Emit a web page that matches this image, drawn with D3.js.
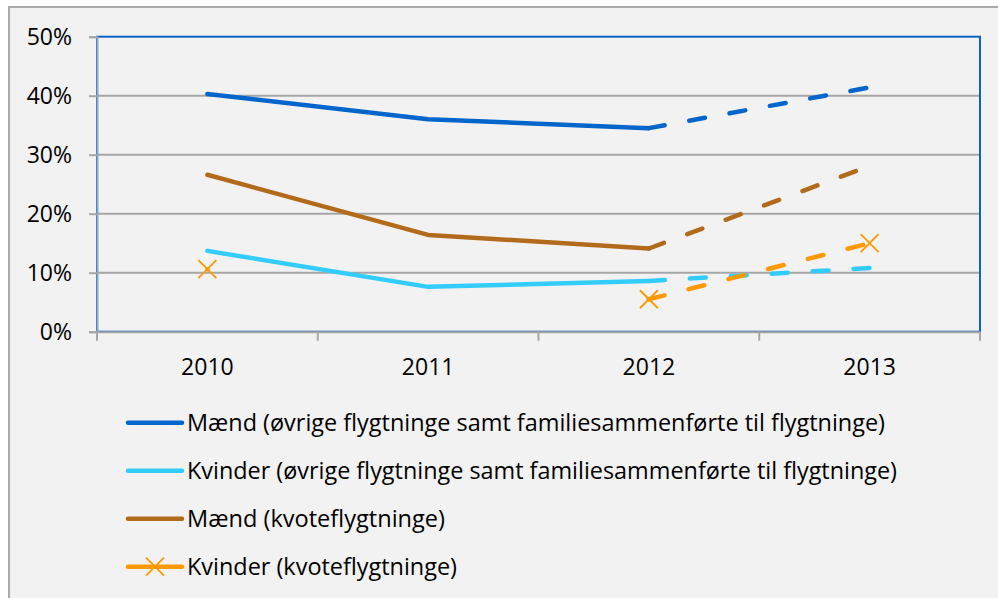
<!DOCTYPE html>
<html>
<head>
<meta charset="utf-8">
<script src="https://cdn.jsdelivr.net/npm/d3@7"></script>
<style>
  html, body { margin: 0; padding: 0; background: #ffffff; }
  svg { display: block; }
  text { font-family: "Open Sans", "Noto Sans", sans-serif; fill: #000; }
</style>
</head>
<body>
<svg id="chart" width="998" height="598"></svg>
<script>
// ---- data ----
const years = ["2010", "2011", "2012", "2013"];
const projectionFrom = "2012"; // segments after this year are drawn dashed
const seriesNames = [
  "Mænd (øvrige flygtninge samt familiesammenførte til flygtninge)",
  "Kvinder (øvrige flygtninge samt familiesammenførte til flygtninge)",
  "Mænd (kvoteflygtninge)",
  "Kvinder (kvoteflygtninge)"
];
const maendOevrige   = [0.403, 0.360, 0.345, 0.414];
const kvinderOevrige = [0.137, 0.076, 0.086, 0.108];
const maendKvote     = [0.266, 0.164, 0.141, 0.281];
const kvinderKvote   = [0.106, null, 0.055, 0.150];
const yTicks = [0, 0.1, 0.2, 0.3, 0.4, 0.5];

const seriesValues = [maendOevrige, kvinderOevrige, maendKvote, kvinderKvote];
const seriesColors = ["#0066cc", "#33ccff", "#b26b1a", "#ff9900"];
const seriesMarker = [false, false, false, true];

const svg = d3.select("#chart");

// chart frame
svg.append("rect").attr("x", 9).attr("y", 7).attr("width", 1000).attr("height", 600)
  .attr("fill", "#f2f2f2").attr("stroke", "#a9a9a9").attr("stroke-width", 2);

const pLeft = 97, pRight = 980, pTop = 36.7, pBottom = 331.7;
const x = d3.scaleBand().domain(years).range([pLeft, pRight]).padding(0);
const y = d3.scaleLinear().domain([0, 0.5]).range([pBottom, pTop]);
const cx = d => x(d) + x.bandwidth() / 2;

// gridlines
svg.append("g").selectAll("line").data(yTicks.slice(1, -1)).join("line")
  .attr("x1", pLeft).attr("x2", pRight)
  .attr("y1", d => y(d)).attr("y2", d => y(d))
  .attr("stroke", "#a6a6a6").attr("stroke-width", 2);

// plot area border (blue)
svg.append("rect").attr("x", pLeft).attr("y", pTop).attr("width", pRight - pLeft).attr("height", pBottom - pTop)
  .attr("fill", "none").attr("stroke", "#0a64c8").attr("stroke-width", 2);

// y axis
const yAxis = d3.axisLeft(y).tickValues(yTicks).tickFormat(d3.format(".0%")).tickSize(8).tickPadding(17);
const gy = svg.append("g").attr("transform", `translate(${pLeft},0)`).call(yAxis);
gy.select(".domain").attr("stroke", "#90a8c8").attr("stroke-width", 2);
gy.selectAll(".tick line").attr("stroke", "#a6a6a6").attr("stroke-width", 2);
gy.selectAll(".tick text").attr("font-size", 23).attr("font-family", "Open Sans").attr("fill", "#000")
  .attr("dy", "0.36em");

// x axis
const xAxis = d3.axisBottom(x).tickSize(0).tickPadding(0);
const gx = svg.append("g").attr("transform", `translate(0,${pBottom})`).call(xAxis);
gx.select(".domain").attr("stroke", "#a6a6a6").attr("stroke-width", 2);
gx.selectAll(".tick text").attr("font-size", 23).attr("font-family", "Open Sans").attr("fill", "#000")
  .attr("y", 43).attr("dy", 0);
// category boundary ticks
const bounds = years.map(d => x(d)).concat([pRight]);
gx.append("g").selectAll("line").data(bounds).join("line")
  .attr("x1", d => d).attr("x2", d => d).attr("y1", 0).attr("y2", 9)
  .attr("stroke", "#a6a6a6").attr("stroke-width", 2);

// lines
const projIdx = years.indexOf(projectionFrom);
const line = d3.line().defined(d => d.v !== null).x(d => cx(d.year)).y(d => y(d.v));
const plot = svg.append("g");
seriesValues.forEach((vals, i) => {
  const pts = years.map((yr, j) => ({ year: yr, v: vals[j] }));
  const solid = pts.slice(0, projIdx + 1);
  const dashed = pts.slice(projIdx);
  plot.append("path").datum(solid).attr("d", line)
    .attr("fill", "none").attr("stroke", seriesColors[i]).attr("stroke-width", 4.5)
    .attr("stroke-linejoin", "round").attr("stroke-linecap", "round");
  plot.append("path").datum(dashed).attr("d", line)
    .attr("fill", "none").attr("stroke", seriesColors[i]).attr("stroke-width", 4.5)
    .attr("stroke-linecap", "round").attr("stroke-dasharray", "16 25");
});
// markers
seriesValues.forEach((vals, i) => {
  if (!seriesMarker[i]) return;
  const pts = years.map((yr, j) => ({ year: yr, v: vals[j] })).filter(d => d.v !== null);
  const g = plot.append("g").selectAll("g").data(pts).join("g")
    .attr("transform", d => `translate(${cx(d.year)},${y(d.v)})`);
  g.append("path").attr("d", "M-9,-9L9,9M-9,9L9,-9")
    .attr("stroke", seriesColors[i]).attr("stroke-width", 1.8).attr("fill", "none");
});

// legend
const legendY = [422.7, 470.7, 518.7, 566.7];
const legendW = [698, 710, 258, 270];
const lg = svg.append("g");
seriesNames.forEach((name, i) => {
  lg.append("line").attr("x1", 128).attr("x2", 182).attr("y1", legendY[i]).attr("y2", legendY[i])
    .attr("stroke", seriesColors[i]).attr("stroke-width", 4.5).attr("stroke-linecap", "round");
  if (seriesMarker[i]) {
    lg.append("path").attr("transform", `translate(155,${legendY[i]})`)
      .attr("d", "M-9,-9L9,9M-9,9L9,-9")
      .attr("stroke", seriesColors[i]).attr("stroke-width", 1.8).attr("fill", "none");
  }
  lg.append("text").attr("x", 187).attr("y", legendY[i] + 8.5)
    .attr("font-size", 23).attr("textLength", legendW[i]).attr("lengthAdjust", "spacingAndGlyphs")
    .text(name);
});
</script>
</body>
</html>
